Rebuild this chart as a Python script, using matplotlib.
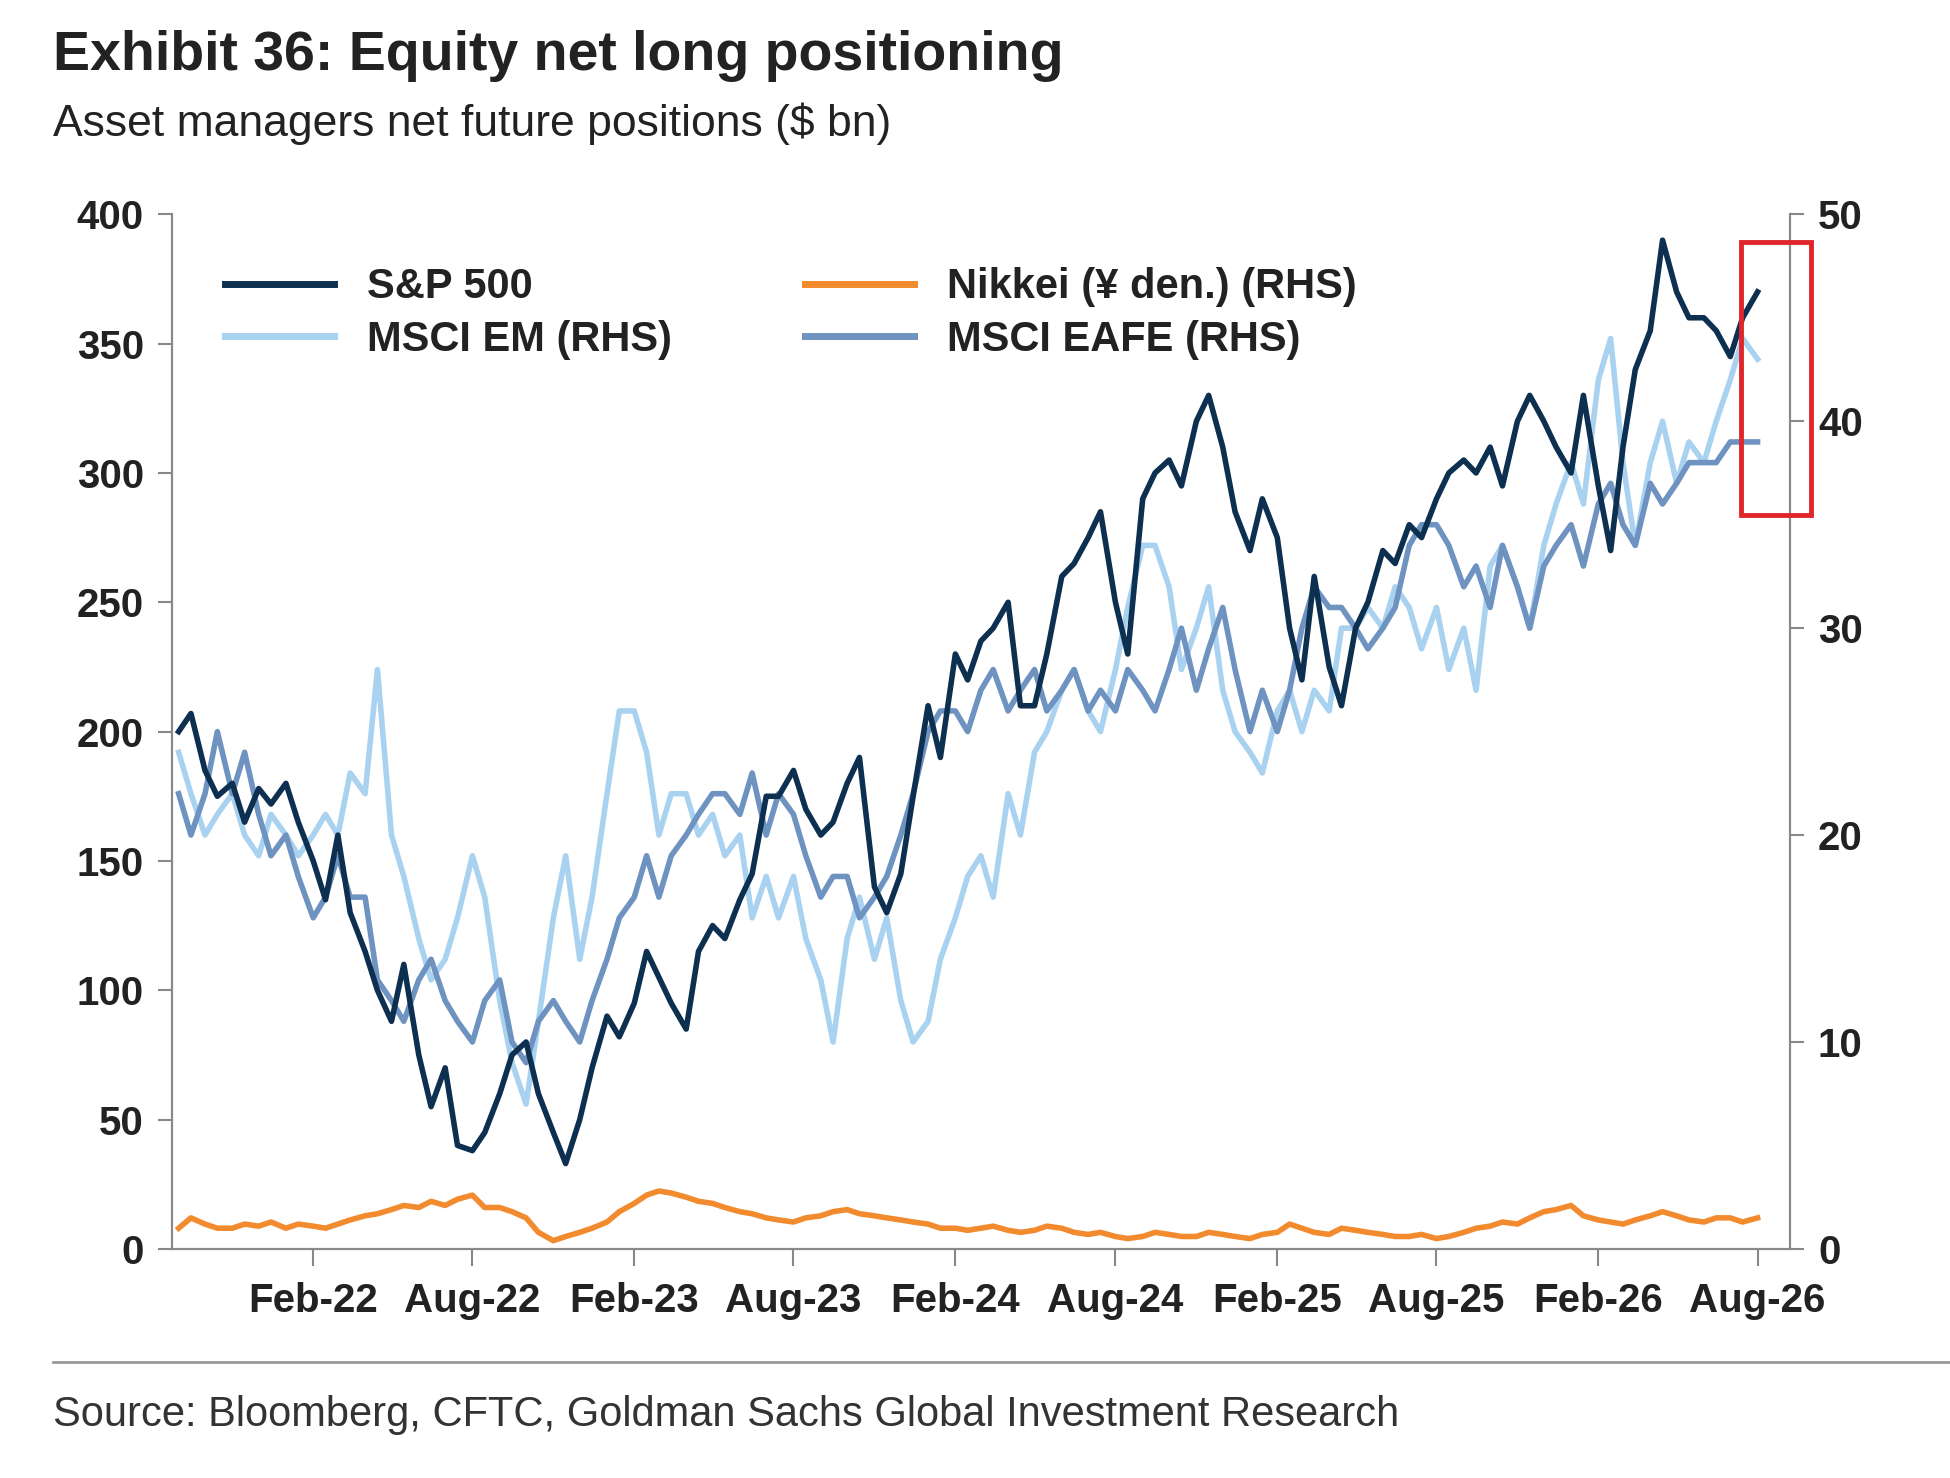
import matplotlib.pyplot as plt
import matplotlib.dates as mdates
from matplotlib.patches import Rectangle
from matplotlib.lines import Line2D
import pandas as pd

plt.rcParams['font.family'] = ['Liberation Sans', 'DejaVu Sans']

# semi-monthly readings, mid Aug 2021 onward
spx = [200, 207, 185, 175, 180, 165, 178, 172, 180, 165, 150, 135, 160, 130, 115, 100,
       88, 110, 75, 55, 70, 40, 38, 45, 60, 75, 80, 60, 45, 33, 50, 70,
       90, 82, 95, 115, 105, 95, 85, 115, 125, 120, 135, 145, 175, 175, 185, 170,
       160, 165, 180, 190, 140, 130, 145, 175, 210, 190, 230, 220, 235, 240, 250, 210,
       210, 230, 260, 265, 275, 285, 250, 230, 290, 300, 305, 295, 320, 330, 310, 285,
       270, 290, 275, 240, 220, 260, 225, 210, 240, 250, 270, 265, 280, 275, 290, 300,
       305, 300, 310, 295, 320, 330, 320, 310, 300, 330, 295, 270, 310, 340, 355, 390,
       370, 360, 360, 355, 345, 360, 370]
em = [24, 22, 20, 21, 22, 20, 19, 21, 20, 19, 20, 21, 20, 23, 22, 28,
      20, 18, 15, 13, 14, 16, 19, 17, 12, 9, 7, 11, 16, 19, 14, 17,
      22, 26, 26, 24, 20, 22, 22, 20, 21, 19, 20, 16, 18, 16, 18, 15,
      13, 10, 15, 17, 14, 16, 12, 10, 11, 14, 16, 18, 19, 17, 22, 20,
      24, 25, 27, 28, 26, 25, 28, 31, 34, 34, 32, 28, 30, 32, 27, 25,
      24, 23, 26, 27, 25, 27, 26, 30, 30, 31, 30, 32, 31, 29, 31, 28,
      30, 27, 33, 34, 32, 30, 34, 36, 38, 36, 42, 44, 38, 34, 38, 40,
      37, 39, 38, 40, 42, 44, 43]
eafe = [22, 20, 22, 25, 22, 24, 21, 19, 20, 18, 16, 17, 19, 17, 17, 13,
        12, 11, 13, 14, 12, 11, 10, 12, 13, 10, 9, 11, 12, 11, 10, 12,
        14, 16, 17, 19, 17, 19, 20, 21, 22, 22, 21, 23, 20, 22, 21, 19,
        17, 18, 18, 16, 17, 18, 20, 22, 25, 26, 26, 25, 27, 28, 26, 27,
        28, 26, 27, 28, 26, 27, 26, 28, 27, 26, 28, 30, 27, 29, 31, 28,
        25, 27, 25, 27, 30, 32, 31, 31, 30, 29, 30, 31, 34, 35, 35, 34,
        32, 33, 31, 34, 32, 30, 33, 34, 35, 33, 36, 37, 35, 34, 37, 36,
        37, 38, 38, 38, 39, 39, 39]
nikkei = [1.0, 1.5, 1.2, 1.0, 1.0, 1.2, 1.1, 1.3, 1.0, 1.2, 1.1, 1.0, 1.2, 1.4, 1.6, 1.7,
          1.9, 2.1, 2.0, 2.3, 2.1, 2.4, 2.6, 2.0, 2.0, 1.8, 1.5, 0.8, 0.4, 0.6, 0.8, 1.0,
          1.3, 1.8, 2.2, 2.6, 2.8, 2.7, 2.5, 2.3, 2.2, 2.0, 1.8, 1.7, 1.5, 1.4, 1.3, 1.5,
          1.6, 1.8, 1.9, 1.7, 1.6, 1.5, 1.4, 1.3, 1.2, 1.0, 1.0, 0.9, 1.0, 1.1, 0.9, 0.8,
          0.9, 1.1, 1.0, 0.8, 0.7, 0.8, 0.6, 0.5, 0.6, 0.8, 0.7, 0.6, 0.6, 0.8, 0.7, 0.6,
          0.5, 0.7, 0.8, 1.2, 1.0, 0.8, 0.7, 1.0, 0.9, 0.8, 0.7, 0.6, 0.6, 0.7, 0.5, 0.6,
          0.8, 1.0, 1.1, 1.3, 1.2, 1.5, 1.8, 1.9, 2.1, 1.6, 1.4, 1.3, 1.2, 1.4, 1.6, 1.8,
          1.6, 1.4, 1.3, 1.5, 1.5, 1.3, 1.5]

tick_dates = pd.date_range('2022-02-01', '2026-08-01', freq='6MS')
tick_labels = [d.strftime('%b-%y') for d in tick_dates]


def dates(n):
    return pd.date_range('2021-08-25', periods=n, freq='SMS')


c_spx, c_em, c_eafe, c_nik = '#0d2f50', '#a9d1f0', '#6f93c0', '#f28a2e'

fig = plt.figure(figsize=(19.5, 14.78), dpi=100)
ax = fig.add_axes([0.088, 0.155, 0.830, 0.70])
ax2 = ax.twinx()

ax2.plot(dates(len(em)), em, color=c_em, lw=4)
ax2.plot(dates(len(eafe)), eafe, color=c_eafe, lw=4)
ax2.plot(dates(len(nikkei)), nikkei, color=c_nik, lw=4)
ax.plot(dates(len(spx)), spx, color=c_spx, lw=4, zorder=5)
ax.set_zorder(ax2.get_zorder() + 1)
ax.patch.set_visible(False)

ax.set_ylim(0, 400)
ax2.set_ylim(0, 50)
ax.set_xlim(pd.Timestamp('2021-08-24'), pd.Timestamp('2026-09-07'))
ax.set_yticks(range(0, 401, 50))
ax2.set_yticks(range(0, 51, 10))
ax.set_xticks(tick_dates)
ax.set_xticklabels(tick_labels)

for a in (ax, ax2):
    a.spines['top'].set_visible(False)
    for s in ('left', 'right', 'bottom'):
        a.spines[s].set_color('#888888')
        a.spines[s].set_linewidth(1.5)
    a.tick_params(labelsize=29, length=10, width=1.5, color='#888888', pad=10)
ax.tick_params(axis='x', length=12, pad=12)
for lab in ax.get_xticklabels() + ax.get_yticklabels() + ax2.get_yticklabels():
    lab.set_fontweight('bold')
    lab.set_color('#222222')

handles = [Line2D([], [], color=c_spx, lw=5), Line2D([], [], color=c_em, lw=5),
           Line2D([], [], color=c_nik, lw=5), Line2D([], [], color=c_eafe, lw=5)]
labels = ['S&P 500', 'MSCI EM (RHS)', 'Nikkei (¥ den.) (RHS)', 'MSCI EAFE (RHS)']
leg = ax.legend(handles, labels, ncol=2, loc='upper left', bbox_to_anchor=(0.01, 0.985),
                frameon=False, fontsize=30, handlelength=2.6, columnspacing=3.2, labelspacing=0.3)
for t in leg.get_texts():
    t.set_fontweight('bold')
    t.set_color('#222222')

fig.patches.append(Rectangle((1400 / 1568, 1 - 411 / 1180), 56 / 1568, 218 / 1180,
                             transform=fig.transFigure, fill=False, ec='#e0262b', lw=3.5))

fig.text(0.027, 0.962, 'Exhibit 36: Equity net long positioning', fontsize=40, fontweight='bold',
         color='#222222', va='center')
fig.text(0.027, 0.916, 'Asset managers net future positions ($ bn)', fontsize=32,
         color='#222222', va='center')
fig.add_artist(Line2D([0.027, 1.0], [1 - 1087 / 1180] * 2, color='#999999', lw=2,
                      transform=fig.transFigure))
fig.text(0.027, 1 - 1130 / 1180, 'Source: Bloomberg, CFTC, Goldman Sachs Global Investment Research',
         fontsize=30, color='#333333', va='center')

fig.savefig('out.png', dpi=100)
